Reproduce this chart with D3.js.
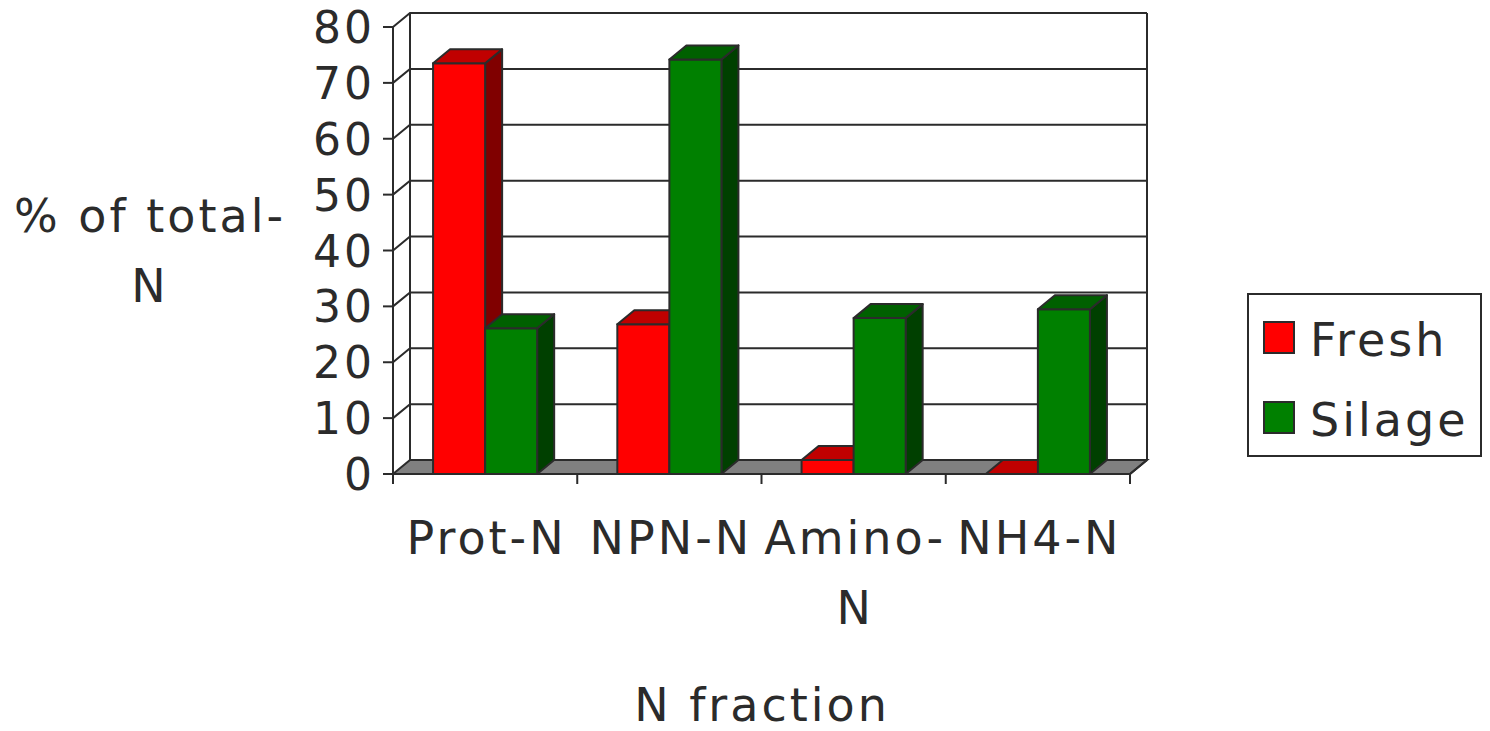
<!DOCTYPE html>
<html>
<head>
<meta charset="utf-8">
<script src="https://cdn.jsdelivr.net/npm/d3@7"></script>
<style>
  html, body { margin: 0; padding: 0; background: #fff; }
  svg { display: block; }
  text { font-family: "DejaVu Sans", Verdana, sans-serif; fill: #2b2b2b; font-size: 46px; letter-spacing: 3px; }
  text.tick { font-size: 44px; }
</style>
</head>
<body>
<svg id="chart" width="1490" height="731"></svg>
<script>
// ---- data ----
const categories = ["Prot-N", "NPN-N", "Amino-N", "NH4-N"];
const categoryLines = [["Prot-N"], ["NPN-N"], ["Amino-", "N"], ["NH4-N"]];
const seriesNames = ["Fresh", "Silage"];
const freshValues = [73.5, 26.8, 2.5, 0];
const silageValues = [26.1, 74.2, 27.9, 29.5];
const yTicks = [0, 10, 20, 30, 40, 50, 60, 70, 80];
const yTitleLines = ["% of total-", "N"];
const xTitle = "N fraction";

const seriesValues = [freshValues, silageValues];
const colors = {
  Fresh:  { front: "#ff0000", top: "#c00000", side: "#800000" },
  Silage: { front: "#008000", top: "#006000", side: "#004000" }
};
const lineColor = "#2b2b2b";

const svg = d3.select("#chart");

// ---- geometry ----
const x0 = 393, x1 = 1130;
const dx = 17, dy = -14;
const y = d3.scaleLinear().domain([0, 80]).range([474, 27]);
const xCat = d3.scaleBand().domain(categories).range([x0, x1]).padding(0);
const xSer = d3.scaleBand().domain(seriesNames).range([0, xCat.bandwidth()])
  .paddingInner(0).paddingOuter(0.77);

// ---- back walls ----
const g = svg.append("g");
g.append("path")
  .attr("d", `M${x0},${y(0)} L${x1},${y(0)} L${x1+dx},${y(0)+dy} L${x0+dx},${y(0)+dy} Z`)
  .attr("fill", "#808080").attr("stroke", lineColor).attr("stroke-width", 2);
yTicks.forEach(t => {
  if (t === 0) return;
  g.append("path")
    .attr("d", `M${x0},${y(t)} L${x0+dx},${y(t)+dy} L${x1+dx},${y(t)+dy}`)
    .attr("fill", "none").attr("stroke", lineColor).attr("stroke-width", 2);
});
g.append("line").attr("x1", x0+dx).attr("x2", x0+dx).attr("y1", y(80)+dy).attr("y2", y(0)+dy)
  .attr("stroke", lineColor).attr("stroke-width", 2);
g.append("line").attr("x1", x1+dx).attr("x2", x1+dx).attr("y1", y(80)+dy).attr("y2", y(0)+dy)
  .attr("stroke", lineColor).attr("stroke-width", 2);

// ---- bars ----
const bars = svg.append("g");
categories.forEach((c, ci) => {
  seriesNames.forEach((s, si) => {
    const v = seriesValues[si][ci];
    const bx0 = xCat(c) + xSer(s);
    const bx1 = bx0 + xSer.bandwidth();
    const yt = y(v), yb = y(0);
    const col = colors[s];
    const bg = bars.append("g").attr("stroke", lineColor).attr("stroke-width", 2).attr("stroke-linejoin", "round");
    if (v > 0) {
      bg.append("path")
        .attr("d", `M${bx1},${yt} L${bx1+dx},${yt+dy} L${bx1+dx},${yb+dy} L${bx1},${yb} Z`)
        .attr("fill", col.side);
      bg.append("rect").attr("x", bx0).attr("y", yt).attr("width", bx1 - bx0).attr("height", yb - yt)
        .attr("fill", col.front);
    }
    bg.append("path")
      .attr("d", `M${bx0},${yt} L${bx0+dx},${yt+dy} L${bx1+dx},${yt+dy} L${bx1},${yt} Z`)
      .attr("fill", col.top);
  });
});

// ---- front axis ----
const ax = svg.append("g").attr("stroke", lineColor).attr("stroke-width", 2);
ax.append("line").attr("x1", x0).attr("x2", x0).attr("y1", y(80)).attr("y2", y(0) + 10);
ax.append("line").attr("x1", x0 - 10).attr("x2", x1).attr("y1", y(0)).attr("y2", y(0));
ax.append("line").attr("x1", x1).attr("x2", x1 + dx).attr("y1", y(0)).attr("y2", y(0) + dy);
yTicks.forEach(t => {
  ax.append("line").attr("x1", x0 - 10).attr("x2", x0).attr("y1", y(t)).attr("y2", y(t));
});
const catBounds = categories.map(c => xCat(c)).concat([x1]);
catBounds.forEach(b => {
  ax.append("line").attr("x1", b).attr("x2", b).attr("y1", y(0)).attr("y2", y(0) + 10);
});

// tick labels
svg.append("g").selectAll("text").data(yTicks).join("text")
  .attr("class", "tick")
  .attr("x", 375).attr("y", d => y(d) + 16)
  .attr("text-anchor", "end").text(d => d);

// category labels
categories.forEach((c, ci) => {
  const cx = xCat(c) + xCat.bandwidth() / 2 + 1.5;
  categoryLines[ci].forEach((ln, li) => {
    svg.append("text").attr("x", cx).attr("y", 554 + li * 70)
      .attr("text-anchor", "middle").text(ln);
  });
});

// axis titles
yTitleLines.forEach((ln, li) => {
  svg.append("text").attr("x", 150).attr("y", 232 + li * 70)
    .attr("text-anchor", "middle").text(ln);
});
svg.append("text").attr("x", 762).attr("y", 721).attr("text-anchor", "middle").text(xTitle);

// ---- legend ----
const lg = svg.append("g");
lg.append("rect").attr("x", 1248).attr("y", 294).attr("width", 233).attr("height", 162)
  .attr("fill", "#fff").attr("stroke", lineColor).attr("stroke-width", 2);
seriesNames.forEach((s, i) => {
  const yy = 322 + i * 80;
  lg.append("rect").attr("x", 1264).attr("y", yy).attr("width", 30).attr("height", 31)
    .attr("fill", colors[s].front).attr("stroke", lineColor).attr("stroke-width", 2);
  lg.append("text").attr("x", 1310).attr("y", yy + 34).text(s);
});
</script>
</body>
</html>
